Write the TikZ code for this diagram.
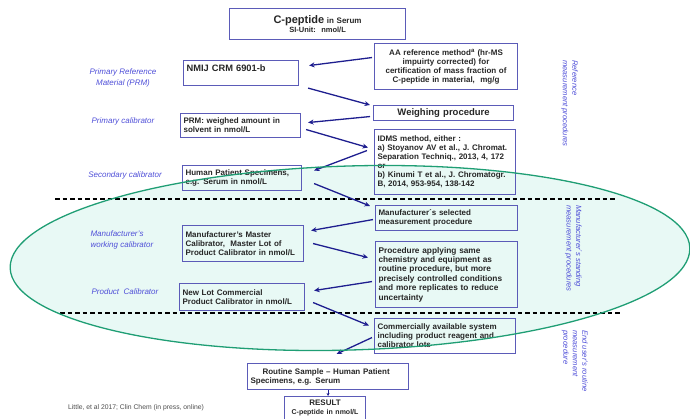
\documentclass[tikz,border=0pt]{standalone}
\usepackage{fontspec}
\setmainfont{Liberation Sans}
\usetikzlibrary{arrows.meta}
\definecolor{boxblue}{HTML}{5B5BB8}
\definecolor{linkblue}{HTML}{1E1E8F}
\definecolor{labelblue}{HTML}{4F4FD8}
\definecolor{ellgreen}{HTML}{1F9E74}
\definecolor{ellfill}{HTML}{E8F9F5}
\begin{document}
\begin{tikzpicture}
[x=1pt,y=-1pt,
  boxDecorate/.style={draw=boxblue,line width=1.1pt,inner sep=3pt,anchor=north west,align=left,%
    font=\bfseries\fontsize{8}{9}\selectfont,text=black!85},%
  linkDecorate/.style={draw=linkblue,line width=1.3pt,-{Stealth[length=5.5pt,width=5pt]}},%
  sideLabel/.style={text=labelblue,font=\itshape\fontsize{8}{11}\selectfont,align=center},%
  stageLabel/.style={text=labelblue,font=\itshape\fontsize{7.6}{9.5}\selectfont,align=left,%
    rotate=-90,anchor=north west,inner sep=0pt},%
  stageLine/.style={dash pattern=on 4.5pt off 3pt,line width=1.3pt},%
  manuEllipse/.style={rotate around={1.7:(350,258)}}]
\useasboundingbox (0,0) rectangle (690,419);
%% standing area
\fill[ellfill,manuEllipse] (350,258) ellipse [x radius=340,y radius=92];
\draw[stageLine] (55,199) -- (615,199);
\draw[stageLine] (60,313) -- (622,313);
%% boxes of the chain
\node (title) [boxDecorate,text width=170pt,minimum height=31pt,align=center] at (229,8)
  {{\fontsize{11}{12}\selectfont C-peptide}\fontsize{8}{9}\selectfont{} in Serum\\
   \fontsize{7.5}{9}\selectfont SI-Unit:\ \ nmol/L};
\node (nmij) [boxDecorate,text width=109pt,minimum height=25pt,font=\bfseries\fontsize{9.3}{10}\selectfont] at (183,60) {NMIJ CRM 6901-b\\\mbox{}};
\node (aa) [boxDecorate,text width=137pt,minimum height=46pt,align=center] at (374,43)
  {AA reference method\textsuperscript{a} (hr-MS\\impuirty corrected) for\\certification of mass fraction of\\C-peptide in material,\ \ mg/g};
\node (weigh) [boxDecorate,text width=136pt,minimum height=15pt,align=center,inner sep=2pt,font=\bfseries\fontsize{9.5}{10}\selectfont] at (373,105) {Weighing procedure};
\node (prm) [boxDecorate,text width=114pt,minimum height=24pt] at (180,113) {PRM: weighed amount in\\solvent in nmol/L};
\node (idms) [boxDecorate,text width=135pt,minimum height=65pt] at (374,129)
  {IDMS method, either :\\a) Stoyanov AV et al., J. Chromat.\\Separation Techniq., 2013, 4, 172\\or\\b) Kinumi T et al., J. Chromatogr.\\B, 2014, 953-954, 138-142};
\node (human) [boxDecorate,text width=113pt,minimum height=25pt] at (182,165) {Human Patient Specimens,\\e.g. Serum in nmol/L};
\node (msel) [boxDecorate,text width=136pt,minimum height=25pt] at (375,205) {Manufacturer´s selected\\measurement procedure};
\node (master) [boxDecorate,text width=115pt,minimum height=36pt] at (182,225)
  {Manufacturer's Master\\Calibrator,\ \ Master Lot of\\Product Calibrator in nmol/L};
\node (proc) [boxDecorate,text width=136pt,minimum height=66pt,font=\bfseries\fontsize{8.3}{9.4}\selectfont] at (375,241)
  {Procedure applying same\\chemistry and equipment as\\routine procedure, but more\\precisely controlled conditions\\and more replicates to reduce\\uncertainty};
\node (newlot) [boxDecorate,text width=119pt,minimum height=27pt] at (179,283) {New Lot Commercial\\Product Calibrator in nmol/L};
\node (comm) [boxDecorate,text width=135pt,minimum height=35pt] at (374,318)
  {Commercially available system\\including product reagent and\\calibrator lots};
\node (routine) [boxDecorate,text width=155pt,minimum height=26pt] at (247,363)
  {\hspace*{1.5em}Routine Sample -- Human Patient\\Specimens, e.g. Serum};
\node (result) [boxDecorate,text width=75pt,minimum height=26pt,align=center] at (284,396)
  {RESULT\\{\fontsize{7}{8}\selectfont C-peptide in nmol/L}\\\mbox{}};
%% arrows
\draw[linkDecorate] ([xshift=-2pt,yshift=9pt]aa.west) -- ([xshift=10pt,yshift=7.5pt]nmij.east);
\draw[linkDecorate] ([xshift=9pt,yshift=-2pt]nmij.south east) -- ([xshift=-3pt]weigh.north west);
\draw[linkDecorate] ([xshift=-3pt,yshift=-3.5pt]weigh.west) -- ([xshift=7pt,yshift=3pt]prm.east);
\draw[linkDecorate] ([xshift=5pt,yshift=-4pt]prm.east) -- ([xshift=-6pt,yshift=14.5pt]idms.west);
\draw[linkDecorate] ([xshift=-7pt,yshift=11.5pt]idms.west) -- ([xshift=12pt,yshift=7.5pt]human.east);
\draw[linkDecorate] ([xshift=12pt,yshift=-5.5pt]human.east) -- ([xshift=-5pt,yshift=-1pt]msel.north west);
\draw[linkDecorate] ([xshift=-2pt,yshift=-1.5pt]msel.west) -- ([xshift=7pt,yshift=13pt]master.east);
\draw[linkDecorate] ([xshift=9pt]master.east) -- ([xshift=-7pt,yshift=17pt]proc.west);
\draw[linkDecorate] ([xshift=-3pt,yshift=-7pt]proc.west) -- ([xshift=9pt,yshift=6.5pt]newlot.east);
\draw[linkDecorate] ([xshift=8pt,yshift=-5.5pt]newlot.east) -- ([xshift=-5pt,yshift=10.5pt]comm.west);
\draw[linkDecorate] ([xshift=-2pt,yshift=-1.5pt]comm.west) -- ([xshift=8.5pt,yshift=9pt]routine.north);
\draw[linkDecorate,-{Stealth[length=3pt,width=3pt]},line width=0.8pt] (routine.south) -- (routine.south |- result.north);
%% outline of standing area
\draw[ellgreen,line width=1.3pt,manuEllipse] (350,258) ellipse [x radius=340,y radius=92];
%% level labels
\node (lprm) [sideLabel] at (123,78) {Primary Reference\\Material (PRM)};
\node (lprim) [sideLabel] at (123,121) {Primary calibrator};
\node (lsec) [sideLabel] at (125,175) {Secondary calibrator};
\node (lwork) [sideLabel,align=left,anchor=west] at (87,240) {Manufacturer's\\working calibrator};
\node (lprod) [sideLabel] at (125,292) {Product\ \ Calibrator};
\node (sref) [stageLabel] at (578,60) {Reference\\measurement procedures};
\node (sman) [stageLabel] at (582,205) {Manufacturer´s standing\\measurement procedures};
\node (suser) [stageLabel] at (588,330) {End user's routine\\measurement\\procedure};
\node (cite) [font=\fontsize{6.8}{8}\selectfont,text=black!70,anchor=west,inner sep=0pt] at (68,408)
  {Little, et al 2017; Clin Chem (in press, online)};
\end{tikzpicture}
\end{document}
